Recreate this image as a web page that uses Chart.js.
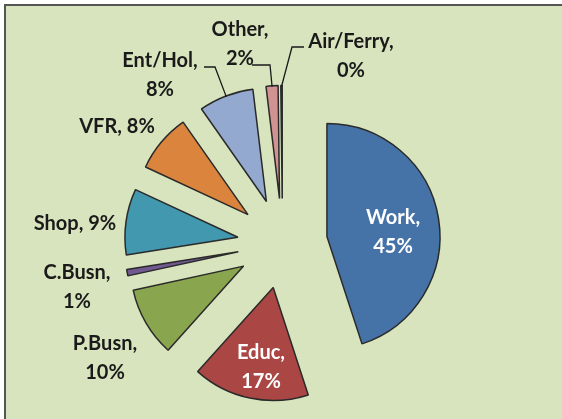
<!DOCTYPE html>
<html>
<head>
<meta charset="utf-8">
<script src="https://cdn.jsdelivr.net/npm/chart.js@4.4.0/dist/chart.umd.min.js"></script>
<style>
  html, body { margin: 0; padding: 0; background: #ffffff; }
  #wrap { position: relative; width: 562px; height: 419px; overflow: hidden; }
  #frame {
    position: absolute; left: 4px; top: 4px; width: 640px; height: 500px;
    border-left: 2px solid #555555; border-top: 2px solid #555555;
    background: #d7e4bd;
  }
  #c { position: absolute; left: 0; top: 0; }
</style>
</head>
<body>
<div id="wrap">
  <div id="frame"></div>
  <canvas id="c" width="562" height="419"></canvas>
</div>
<script>
// trip purpose shares (percent)
const categories = ["Work", "Educ", "P.Busn", "C.Busn", "Shop", "VFR", "Ent/Hol", "Other", "Air/Ferry"];
const shares = [44.8, 16.6, 9.9, 0.9, 9.4, 8.3, 7.8, 1.7, 0.2];
const sliceColors = ["#4572a7", "#aa4643", "#89a54e", "#71588f", "#4198af", "#db843d", "#93a9cf", "#d19392", "#b9cd96"];

const RADIUS = 113;   // pie radius in px
const EXPLODE = 45;   // every slice pulled out by this much
const LINE_GAP = 29;
const FONT = "bold 20px Lato, 'Open Sans', sans-serif";

// where each data label goes (centre x, first baseline y)
const labelSpots = [
  { x: 393, y: 224, split: true, color: "#ffffff" },
  { x: 261, y: 359, split: true, color: "#ffffff" },
  { x: 105, y: 350, split: true },
  { x: 77, y: 279, split: true },
  { x: 75, y: 230, split: false },
  { x: 117, y: 133, split: false },
  { x: 160, y: 67, split: true, leader: [[204, 67], [215, 67]] },
  { x: 240, y: 36, split: true, leader: [[252, 65], [270, 65]] },
  { x: 351, y: 48, split: true, leader: [[304, 47], [292, 47]] }
];

const total = shares.reduce((a, b) => a + b, 0);

// pull every slice out from the centre along its mid angle
const explodePlugin = {
  id: "explode",
  beforeDatasetsDraw(chart) {
    const area = chart.chartArea;
    const cx = (area.left + area.right) / 2;
    const cy = (area.top + area.bottom) / 2;
    chart.getDatasetMeta(0).data.forEach(arc => {
      const mid = (arc.startAngle + arc.endAngle) / 2;
      arc.x = cx + Math.cos(mid) * EXPLODE;
      arc.y = cy + Math.sin(mid) * EXPLODE;
    });
  }
};

const labelPlugin = {
  id: "sliceLabels",
  afterDatasetsDraw(chart) {
    const ctx = chart.ctx;
    const arcs = chart.getDatasetMeta(0).data;
    ctx.save();
    ctx.font = FONT;
    ctx.textAlign = "center";
    ctx.textBaseline = "alphabetic";
    arcs.forEach((arc, i) => {
      const spot = labelSpots[i];
      const pct = Math.round(shares[i] / total * 100) + "%";
      if (spot.leader) {
        const mid = (arc.startAngle + arc.endAngle) / 2;
        ctx.strokeStyle = "#1a1a1a";
        ctx.lineWidth = 1.3;
        ctx.beginPath();
        ctx.moveTo(spot.leader[0][0], spot.leader[0][1]);
        ctx.lineTo(spot.leader[1][0], spot.leader[1][1]);
        ctx.lineTo(arc.x + Math.cos(mid) * (RADIUS - 1), arc.y + Math.sin(mid) * (RADIUS - 1));
        ctx.stroke();
      }
      ctx.fillStyle = spot.color || "#1a1a1a";
      if (spot.split) {
        ctx.fillText(categories[i] + ",", spot.x, spot.y);
        ctx.fillText(pct, spot.x, spot.y + LINE_GAP);
      } else {
        ctx.fillText(categories[i] + ", " + pct, spot.x, spot.y);
      }
    });
    ctx.restore();
  }
};

new Chart(document.getElementById("c"), {
  type: "pie",
  data: {
    labels: categories,
    datasets: [{
      data: shares,
      backgroundColor: sliceColors,
      borderColor: "#2a2a2a",
      borderWidth: 1.5
    }]
  },
  options: {
    responsive: false,
    animation: false,
    radius: RADIUS,
    layout: { padding: { left: 3, right: 0, top: 68, bottom: 0 } },
    plugins: {
      legend: { display: false },
      tooltip: { enabled: false }
    }
  },
  plugins: [explodePlugin, labelPlugin]
});
</script>
</body>
</html>
